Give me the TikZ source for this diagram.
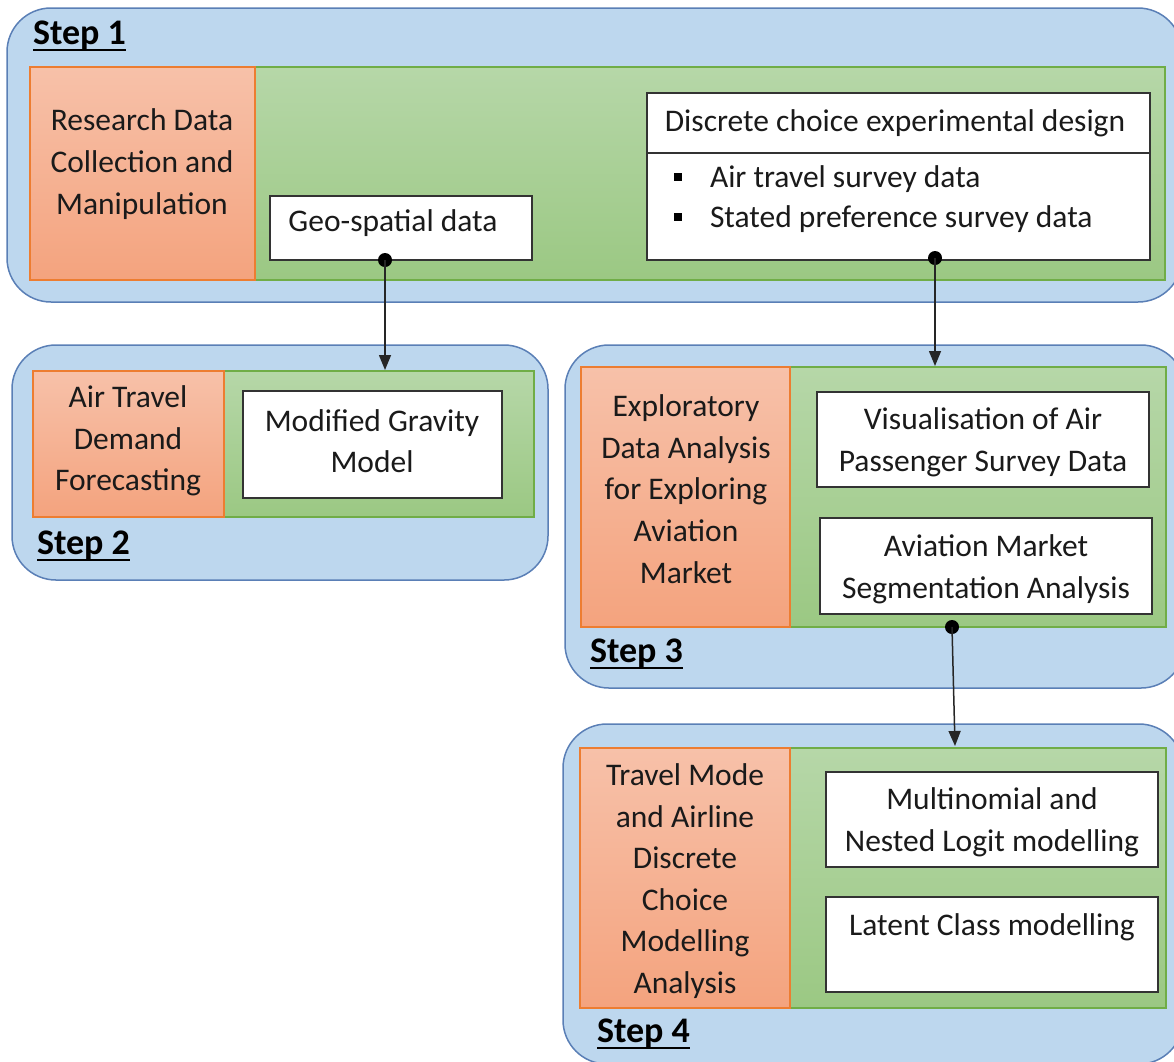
\documentclass[tikz,border=0pt]{standalone}
\usepackage{fontspec}
\setmainfont{Carlito}
\usetikzlibrary{arrows.meta}
\definecolor{bluefill}{HTML}{BDD7EE}
\definecolor{blueline}{HTML}{5A7FB6}
\definecolor{orline}{HTML}{ED7D31}
\definecolor{ortop}{HTML}{F7C1A9}
\definecolor{orbot}{HTML}{F4A37E}
\definecolor{grline}{HTML}{70AD47}
\definecolor{grtop}{HTML}{B6D7A8}
\definecolor{grbot}{HTML}{9BC883}
\definecolor{txt}{HTML}{1A1A1A}
\begin{document}
\begin{tikzpicture}[x=1pt,y=-1pt,
  every node/.style={inner sep=0pt, outer sep=0pt},
  stepbox/.style={draw=blueline, fill=bluefill, line width=1.5pt, rounded corners=44pt, anchor=north west},
  orbox/.style={draw=orline, top color=ortop, bottom color=orbot, line width=1.5pt, anchor=north west},
  grbox/.style={draw=grline, top color=grtop, bottom color=grbot, line width=1.5pt, anchor=north west},
  wbox/.style={draw=black!80, fill=white, line width=1.5pt, anchor=north west},
  tx/.style={text=txt, align=center, font=\fontsize{31.5}{41.6}\selectfont},
  txl/.style={text=txt, anchor=west, font=\fontsize{31.5}{41.6}\selectfont},
  steplbl/.style={text=black, anchor=base west, font=\fontsize{36}{40}\selectfont\bfseries},
  uline/.style={line width=2.8pt, black},
  dotc/.style={circle, fill=black, minimum size=14pt},
  conn/.style={line width=1.5pt, black!85, -{Triangle[length=15pt,width=12pt]}}
]
\useasboundingbox (0,0) rectangle (1174,1061);
\clip (0,0) rectangle (1174,1061);

% ---------------- Step 1 ----------------
\node[stepbox, minimum width=1175pt, minimum height=294pt] (s1) at (7,8) {};
\node[grbox, minimum width=910pt, minimum height=213pt] (g1) at (255,67) {};
\node[orbox, minimum width=225pt, minimum height=213pt] (o1) at (30,67) {};
\node[tx] (o1t) at (142,164) {Research Data\\Collection and\\Manipulation};
\node[wbox, minimum width=262pt, minimum height=64pt] (geo) at (270,196) {};
\node[tx] (geot) at (393,223) {Geo-spatial data};
\node[wbox, minimum width=503pt, minimum height=167pt] (dce) at (647,93) {};
\coordinate (dcel) at (647,153);
\coordinate (dcer) at (1150,153);
\draw[line width=1.5pt, black!80] (dcel) -- (dcer);
\node[tx] (dcet) at (895,123) {Discrete choice experimental design};
\node[fill=black, minimum size=8pt] (b1) at (678,177) {};
\node[fill=black, minimum size=8pt] (b2) at (678,217) {};
\node[txl] (b1t) at (710,179) {Air travel survey data};
\node[txl] (b2t) at (710,219) {Stated preference survey data};
\node[steplbl] (l1) at (33,44) {Step 1};
\draw[uline] ([yshift=-6pt]l1.base west) -- ([yshift=-6pt]l1.base east);

% ---------------- Step 2 ----------------
\node[stepbox, minimum width=536pt, minimum height=235pt] (s2) at (12,345) {};
\node[grbox, minimum width=310pt, minimum height=146pt] (g2) at (224,371) {};
\node[orbox, minimum width=191pt, minimum height=146pt] (o2) at (33,371) {};
\node[tx] (o2t) at (128,441) {Air Travel\\Demand\\Forecasting};
\node[wbox, minimum width=259pt, minimum height=107pt] (grav) at (243,391) {};
\node[tx] (gravt) at (372,441) {Modified Gravity\\Model};
\node[steplbl] (l2) at (37,554) {Step 2};
\draw[uline] ([yshift=-6pt]l2.base west) -- ([yshift=-6pt]l2.base east);

% ---------------- Step 3 ----------------
\node[stepbox, minimum width=620pt, minimum height=343pt] (s3) at (565,345) {};
\node[grbox, minimum width=376pt, minimum height=260pt] (g3) at (790,367) {};
\node[orbox, minimum width=209pt, minimum height=260pt] (o3) at (581,367) {};
\node[tx] (o3t) at (686,489) {Exploratory\\Data Analysis\\for Exploring\\Aviation\\Market};
\node[wbox, minimum width=332pt, minimum height=95pt] (vis) at (817,392) {};
\node[tx] (vist) at (983,442) {Visualisation of Air\\Passenger Survey Data};
\node[wbox, minimum width=332pt, minimum height=96pt] (avi) at (820,518) {};
\node[tx] (avit) at (986,569) {Aviation Market\\Segmentation Analysis};
\node[steplbl] (l3) at (590,662) {Step 3};
\draw[uline] ([yshift=-6pt]l3.base west) -- ([yshift=-6pt]l3.base east);

% ---------------- Step 4 ----------------
\node[stepbox, minimum width=620pt, minimum height=340pt] (s4) at (563,724) {};
\node[grbox, minimum width=376pt, minimum height=260pt] (g4) at (790,748) {};
\node[orbox, minimum width=210pt, minimum height=260pt] (o4) at (580,748) {};
\node[tx] (o4t) at (685,881) {Travel Mode\\and Airline\\Discrete\\Choice\\Modelling\\Analysis};
\node[wbox, minimum width=332pt, minimum height=95pt] (mnl) at (826,772) {};
\node[tx] (mnlt) at (992,822) {Multinomial and\\Nested Logit modelling};
\node[wbox, minimum width=332pt, minimum height=95pt] (lc) at (826,897) {};
\node[tx] (lct) at (992,927) {Latent Class modelling};
\node[steplbl] (l4) at (597,1042) {Step 4};
\draw[uline] ([yshift=-6pt]l4.base west) -- ([yshift=-6pt]l4.base east);

% ---------------- connectors ----------------
\node[dotc] (d1) at (385,260) {};
\coordinate (e1) at (385,370);
\draw[conn] (d1.center) -- (e1);
\node[dotc] (d2) at (935,258) {};
\coordinate (e2) at (935,366);
\draw[conn] (d2.center) -- (e2);
\node[dotc] (d3) at (952,627) {};
\coordinate (e3) at (955,746);
\draw[conn] (d3.center) -- (e3);
\end{tikzpicture}
\end{document}
